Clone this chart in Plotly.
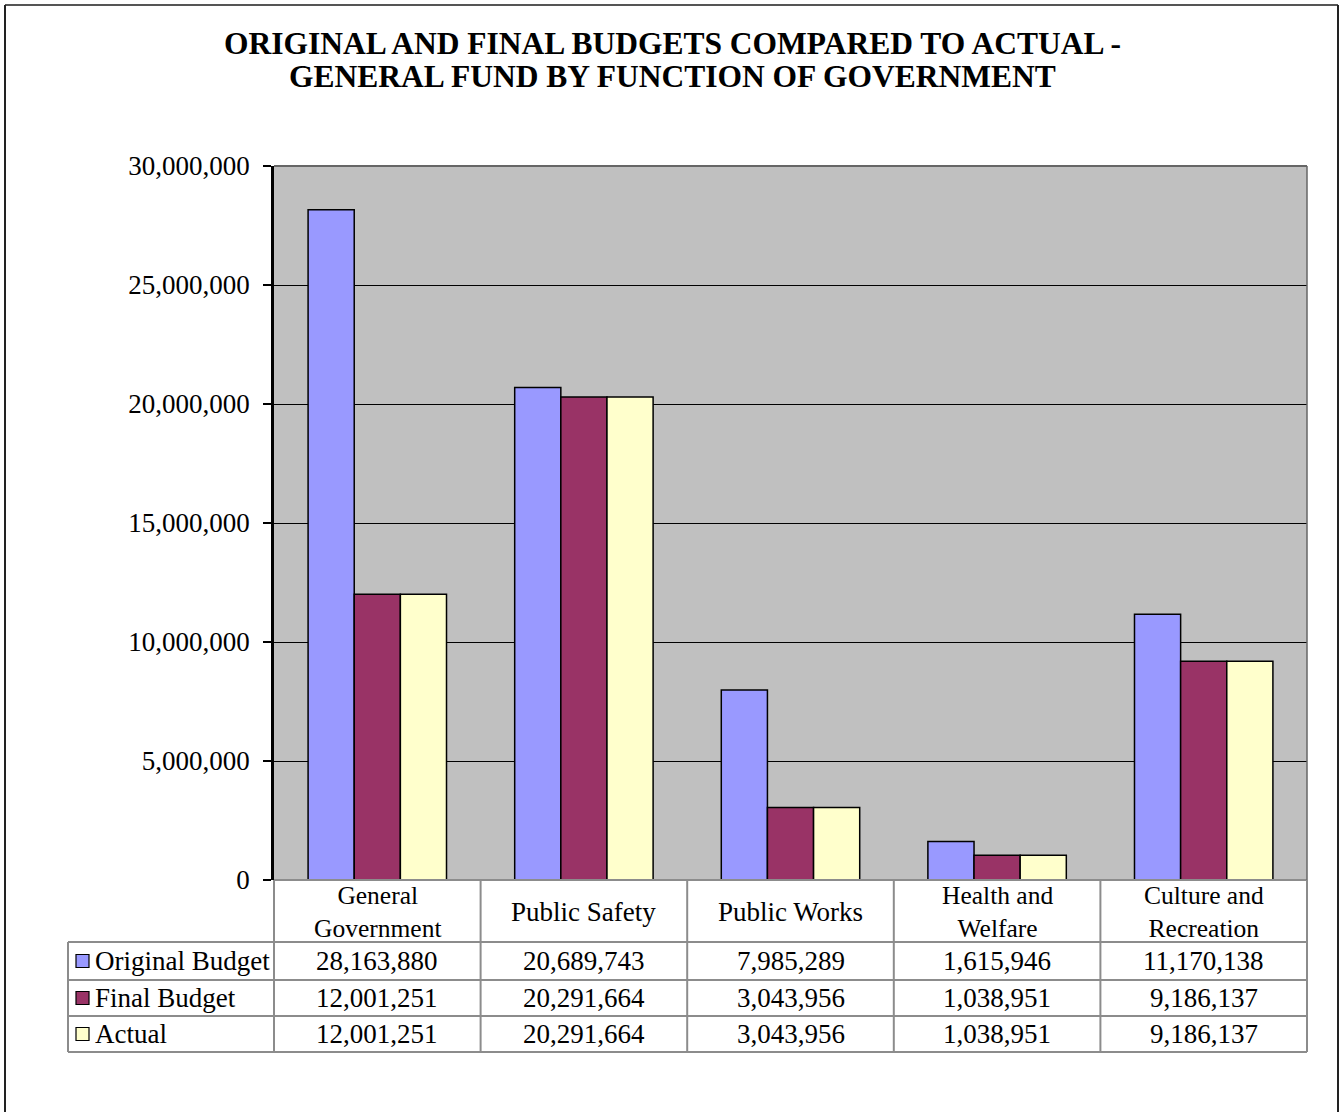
import plotly.graph_objects as go

# Budget comparison data (General Fund by function of government)
categories = ["General<br>Government", "Public Safety", "Public Works",
              "Health and<br>Welfare", "Culture and<br>Recreation"]
series_names = ["Original Budget", "Final Budget", "Actual"]
original_budget = [28163880, 20689743, 7985289, 1615946, 11170138]
final_budget = [12001251, 20291664, 3043956, 1038951, 9186137]
actual = [12001251, 20291664, 3043956, 1038951, 9186137]
y_ticks = [0, 5000000, 10000000, 15000000, 20000000, 25000000, 30000000]
title_lines = ["ORIGINAL AND FINAL BUDGETS COMPARED TO ACTUAL -",
               "GENERAL FUND BY FUNCTION OF GOVERNMENT"]

series_values = [original_budget, final_budget, actual]
series_colors = ["#9999FF", "#993366", "#FFFFCC"]

W, H = 1344, 1112
FONT = "Liberation Serif, Times New Roman, serif"
TXT = 27


def fx(px):
    return px / W


def fy(py):
    return 1 - py / H


# plot-area and table geometry (pixels)
PL, PR, PT, PB = 274, 1307, 166, 880
TL = 68
row_edges = [880, 942, 980, 1016, 1052]
ncat = len(categories)
col_w = (PR - PL) / ncat
col_edges = [PL + i * col_w for i in range(ncat + 1)]

fig = go.Figure()
for name, vals, col in zip(series_names, series_values, series_colors):
    fig.add_trace(go.Bar(
        x=list(range(ncat)), y=vals, name=name,
        marker=dict(color=col, line=dict(color="black", width=1.5)),
        showlegend=False,
    ))

shapes = []
annotations = []
GRID_C = "#8c8c8c"


def hline(y, x0, x1, color, width):
    shapes.append(dict(type="line", xref="paper", yref="paper",
                       x0=fx(x0), x1=fx(x1), y0=fy(y), y1=fy(y),
                       line=dict(color=color, width=width)))


def vline(x, y0, y1, color, width):
    shapes.append(dict(type="line", xref="paper", yref="paper",
                       x0=fx(x), x1=fx(x), y0=fy(y0), y1=fy(y1),
                       line=dict(color=color, width=width)))


def label(text, x, y, size, anchor="center", bold=False):
    annotations.append(dict(text=f"<b>{text}</b>" if bold else text,
                            xref="paper", yref="paper",
                            x=fx(x), y=fy(y), xanchor=anchor, yanchor="middle",
                            showarrow=False,
                            font=dict(family=FONT, size=size, color="black")))


# outer chart frame
hline(5, 5, 1338, "#555555", 2)
vline(5, 5, 1115, "#222222", 2)
vline(1338, 5, 1115, "#222222", 2)

# two-line title
for k, line in enumerate(title_lines):
    label(line, 672, 44 + 32 * k, 31.5, bold=True)

# data table rules
hline(PB, PL, PR, GRID_C, 2)
for ry in row_edges[1:]:
    hline(ry, TL, PR, GRID_C, 2)
vline(TL, row_edges[1], row_edges[-1], GRID_C, 2)
for cx in col_edges:
    vline(cx, row_edges[0], row_edges[-1], GRID_C, 2)

# category header row
for i, cat in enumerate(categories):
    cx = (col_edges[i] + col_edges[i + 1]) / 2
    cy = (row_edges[0] + row_edges[1]) / 2
    label(cat, cx, cy + 1, 25.5 if "<br>" in cat else TXT)

# series rows: swatch, name, values
for r, (name, vals, col) in enumerate(zip(series_names, series_values, series_colors)):
    top, bot = row_edges[r + 1], row_edges[r + 2]
    cy = (top + bot) / 2
    shapes.append(dict(type="rect", xref="paper", yref="paper",
                       x0=fx(76), x1=fx(89), y0=fy(cy - 6.5), y1=fy(cy + 6.5),
                       fillcolor=col, line=dict(color="black", width=1.2)))
    label(name, 93, cy, TXT, anchor="left")
    for i, v in enumerate(vals):
        cx = (col_edges[i] + col_edges[i + 1]) / 2
        label(f"{v:,}", cx, cy, TXT)

# top and right edges of plot area
hline(PT, PL, PR, "#666666", 2)
vline(PR, PT, PB, "#666666", 1.5)

fig.update_layout(
    width=W, height=H,
    margin=dict(l=0, r=0, t=0, b=0, autoexpand=False),
    paper_bgcolor="white",
    plot_bgcolor="#C0C0C0",
    bargap=0.33, bargroupgap=0,
    barmode="group",
    xaxis=dict(domain=[fx(PL), fx(PR)], range=[-0.5, ncat - 0.5],
               showticklabels=False, ticks="", showgrid=False, zeroline=False,
               showline=False),
    yaxis=dict(domain=[fy(PB), fy(PT)], range=[0, 30000000],
               tickvals=y_ticks, tickformat=",", ticks="outside", ticklen=8,
               tickcolor="black", tickwidth=1.5, ticklabelstandoff=8,
               showline=True, linecolor="black", linewidth=2.5,
               showgrid=True, gridcolor="black", gridwidth=1,
               zeroline=False, automargin=False,
               tickfont=dict(family=FONT, size=TXT, color="black")),
    shapes=shapes,
    annotations=annotations,
)

fig.write_html("out.html")
